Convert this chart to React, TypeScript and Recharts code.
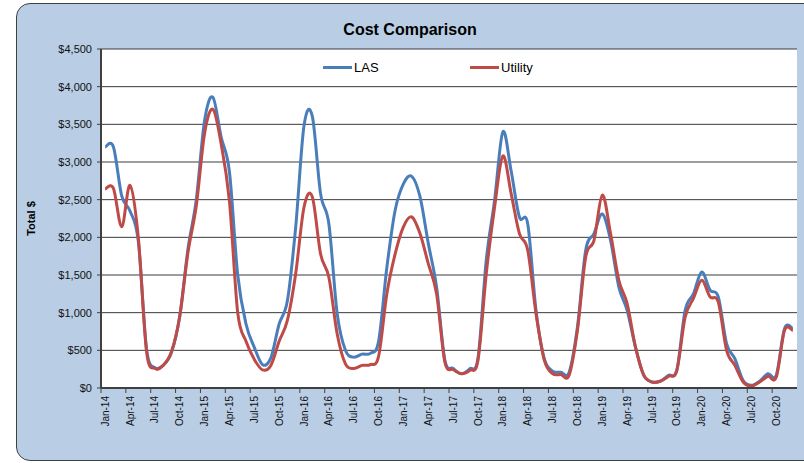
import { type ReactElement } from "react";
import { CartesianGrid, Line, LineChart, XAxis, YAxis } from "recharts";

// categories: Jan-14 .. Dec-20
const YEARS = ["14", "15", "16", "17", "18", "19", "20"];
const MONTHS = ["Jan", "Feb", "Mar", "Apr", "May", "Jun", "Jul", "Aug", "Sep", "Oct", "Nov", "Dec"];

const LAS = [
  3200, 3200, 2550, 2350, 1950, 520, 270, 300, 470, 950, 1850, 2500,
  3550, 3860, 3330, 2870, 1500, 850, 540, 310, 400, 850, 1160, 2140,
  3480, 3610, 2580, 2180, 990, 500, 410, 450, 460, 620, 1600, 2360,
  2710, 2810, 2540, 1920, 1340, 370, 260, 190, 255, 400, 1700, 2490,
  3400, 2880, 2270, 2180, 1030, 390, 225, 210, 210, 810, 1830, 2050,
  2310, 1960, 1340, 1030, 545, 170, 80, 90, 170, 240, 1030, 1250,
  1540, 1300, 1210, 590, 390, 100, 35, 90, 190, 170, 790, 790,
];

const UTILITY = [
  2640, 2650, 2140, 2690, 2000, 480, 260, 300, 480, 950, 1800, 2420,
  3380, 3700, 3240, 2480, 1000, 620, 380, 240, 300, 620, 900, 1520,
  2400, 2540, 1780, 1470, 720, 320, 260, 300, 310, 420, 1250, 1780,
  2140, 2270, 2050, 1650, 1250, 345, 245, 190, 235, 370, 1520, 2400,
  3080, 2580, 2050, 1830, 990, 370, 190, 180, 170, 765, 1740, 1960,
  2560, 2050, 1430, 1120, 545, 170, 80, 90, 155, 235, 940, 1190,
  1430, 1210, 1140, 500, 300, 80, 27, 80, 155, 145, 765, 765,
];

const Y_TICKS = [0, 500, 1000, 1500, 2000, 2500, 3000, 3500, 4000, 4500];

const FONT = "Arial, 'Liberation Sans', sans-serif";
const BLUE = "#4A7EBB";
const RED = "#BE4B48";

const PLOT_W = 696;
const HALF_STEP = PLOT_W / LAS.length / 2;

const data = YEARS.flatMap((yr) => MONTHS.map((m) => `${m}-${yr}`)).map((label, i) => ({
  label,
  las: LAS[i],
  utility: UTILITY[i],
}));

const money = (v: number) => `$${v.toLocaleString("en-US")}`;

// Excel-style smoothing (Catmull-Rom through every point)
function excelCurve(context: any) {
  let pts: [number, number][] = [];
  return {
    areaStart() {},
    areaEnd() {},
    lineStart() {
      pts = [];
    },
    point(x: number, y: number) {
      pts.push([+x, +y]);
    },
    lineEnd() {
      if (!pts.length) return;
      context.moveTo(pts[0][0], pts[0][1]);
      for (let i = 0; i < pts.length - 1; i++) {
        const p0 = pts[i - 1] ?? pts[i];
        const p1 = pts[i];
        const p2 = pts[i + 1];
        const p3 = pts[i + 2] ?? p2;
        context.bezierCurveTo(
          p1[0] + (p2[0] - p0[0]) / 6,
          p1[1] + (p2[1] - p0[1]) / 6,
          p2[0] - (p3[0] - p1[0]) / 6,
          p2[1] - (p3[1] - p1[1]) / 6,
          p2[0],
          p2[1],
        );
      }
    },
  };
}

function MonthTick({ x, y, payload }: any): ReactElement {
  const bx = x - HALF_STEP;
  return (
    <g>
      <line x1={bx} x2={bx} y1={y - 8} y2={y - 3} stroke="#404040" strokeWidth={1} />
      <text
        transform={`translate(${x},${y}) rotate(-90)`}
        textAnchor="end"
        dominantBaseline="central"
        fontSize={10}
        fontFamily={FONT}
        fill="#111"
      >
        {payload.value}
      </text>
    </g>
  );
}

function AxisTitle({ viewBox }: any): ReactElement {
  const cx = viewBox.x + 31;
  const cy = viewBox.y + viewBox.height / 2;
  return (
    <text
      transform={`translate(${cx},${cy}) rotate(-90)`}
      textAnchor="middle"
      dominantBaseline="central"
      fontSize={11}
      fontWeight="bold"
      fontFamily={FONT}
      fill="#000"
    >
      Total $
    </text>
  );
}

function LegendItem({ color, name, left }: { color: string; name: string; left: number }): ReactElement {
  return (
    <div style={{ position: "absolute", left, top: 59, display: "flex", alignItems: "center", height: 16 }}>
      <span style={{ width: 29, height: 3, background: color, display: "inline-block", marginRight: 2 }} />
      <span style={{ fontSize: 13, fontFamily: FONT, color: "#000" }}>{name}</span>
    </div>
  );
}

export default function App(): ReactElement {
  return (
    <div style={{ position: "absolute", left: 0, top: 0, width: 804, height: 463, background: "#fff", overflow: "hidden" }}>
      <div
        style={{
          position: "absolute",
          left: 16,
          top: 3,
          width: 820,
          height: 456,
          background: "#B9CDE5",
          border: "1.5px solid #404040",
          borderRadius: 14,
        }}
      />
      <div
        style={{
          position: "absolute",
          left: 290,
          top: 21,
          width: 240,
          textAlign: "center",
          fontFamily: FONT,
          fontWeight: "bold",
          fontSize: 16,
          color: "#000",
        }}
      >
        Cost Comparison
      </div>
      <div style={{ position: "absolute", left: 0, top: 0 }}>
        <LineChart width={804} height={463} data={data} margin={{ top: 49, right: 7, bottom: 0, left: 0 }}>
          <CartesianGrid vertical={false} fill="#fff" stroke="#3a3a3a" strokeWidth={1} />
          <XAxis
            dataKey="label"
            height={75}
            interval={2}
            padding={{ left: HALF_STEP, right: HALF_STEP }}
            tickLine={false}
            tickSize={5}
            tickMargin={3}
            axisLine={{ stroke: "#404040", strokeWidth: 2 }}
            tick={<MonthTick />}
          />
          <XAxis xAxisId="top" dataKey="label" orientation="top" height={0} tick={false} tickLine={false} axisLine={{ stroke: "#8a8a8a", strokeWidth: 2 }} />
          <YAxis
            width={101}
            domain={[0, 4500]}
            ticks={Y_TICKS}
            interval={0}
            tickFormatter={money}
            tickSize={4}
            tickMargin={5}
            tickLine={{ stroke: "#404040" }}
            axisLine={{ stroke: "#404040", strokeWidth: 2 }}
            tick={{ fontSize: 11, fontFamily: FONT, fill: "#111" }}
            label={<AxisTitle />}
          />
          <YAxis yAxisId="right" orientation="right" width={0} tick={false} tickLine={false} axisLine={{ stroke: "#8a8a8a", strokeWidth: 2 }} />
          <Line dataKey="las" name="LAS" type={excelCurve as any} stroke={BLUE} strokeWidth={3} dot={false} activeDot={false} isAnimationActive={false} />
          <Line dataKey="utility" name="Utility" type={excelCurve as any} stroke={RED} strokeWidth={3} dot={false} activeDot={false} isAnimationActive={false} />
        </LineChart>
      </div>
      <LegendItem color={BLUE} name="LAS" left={323} />
      <LegendItem color={RED} name="Utility" left={470} />
    </div>
  );
}
